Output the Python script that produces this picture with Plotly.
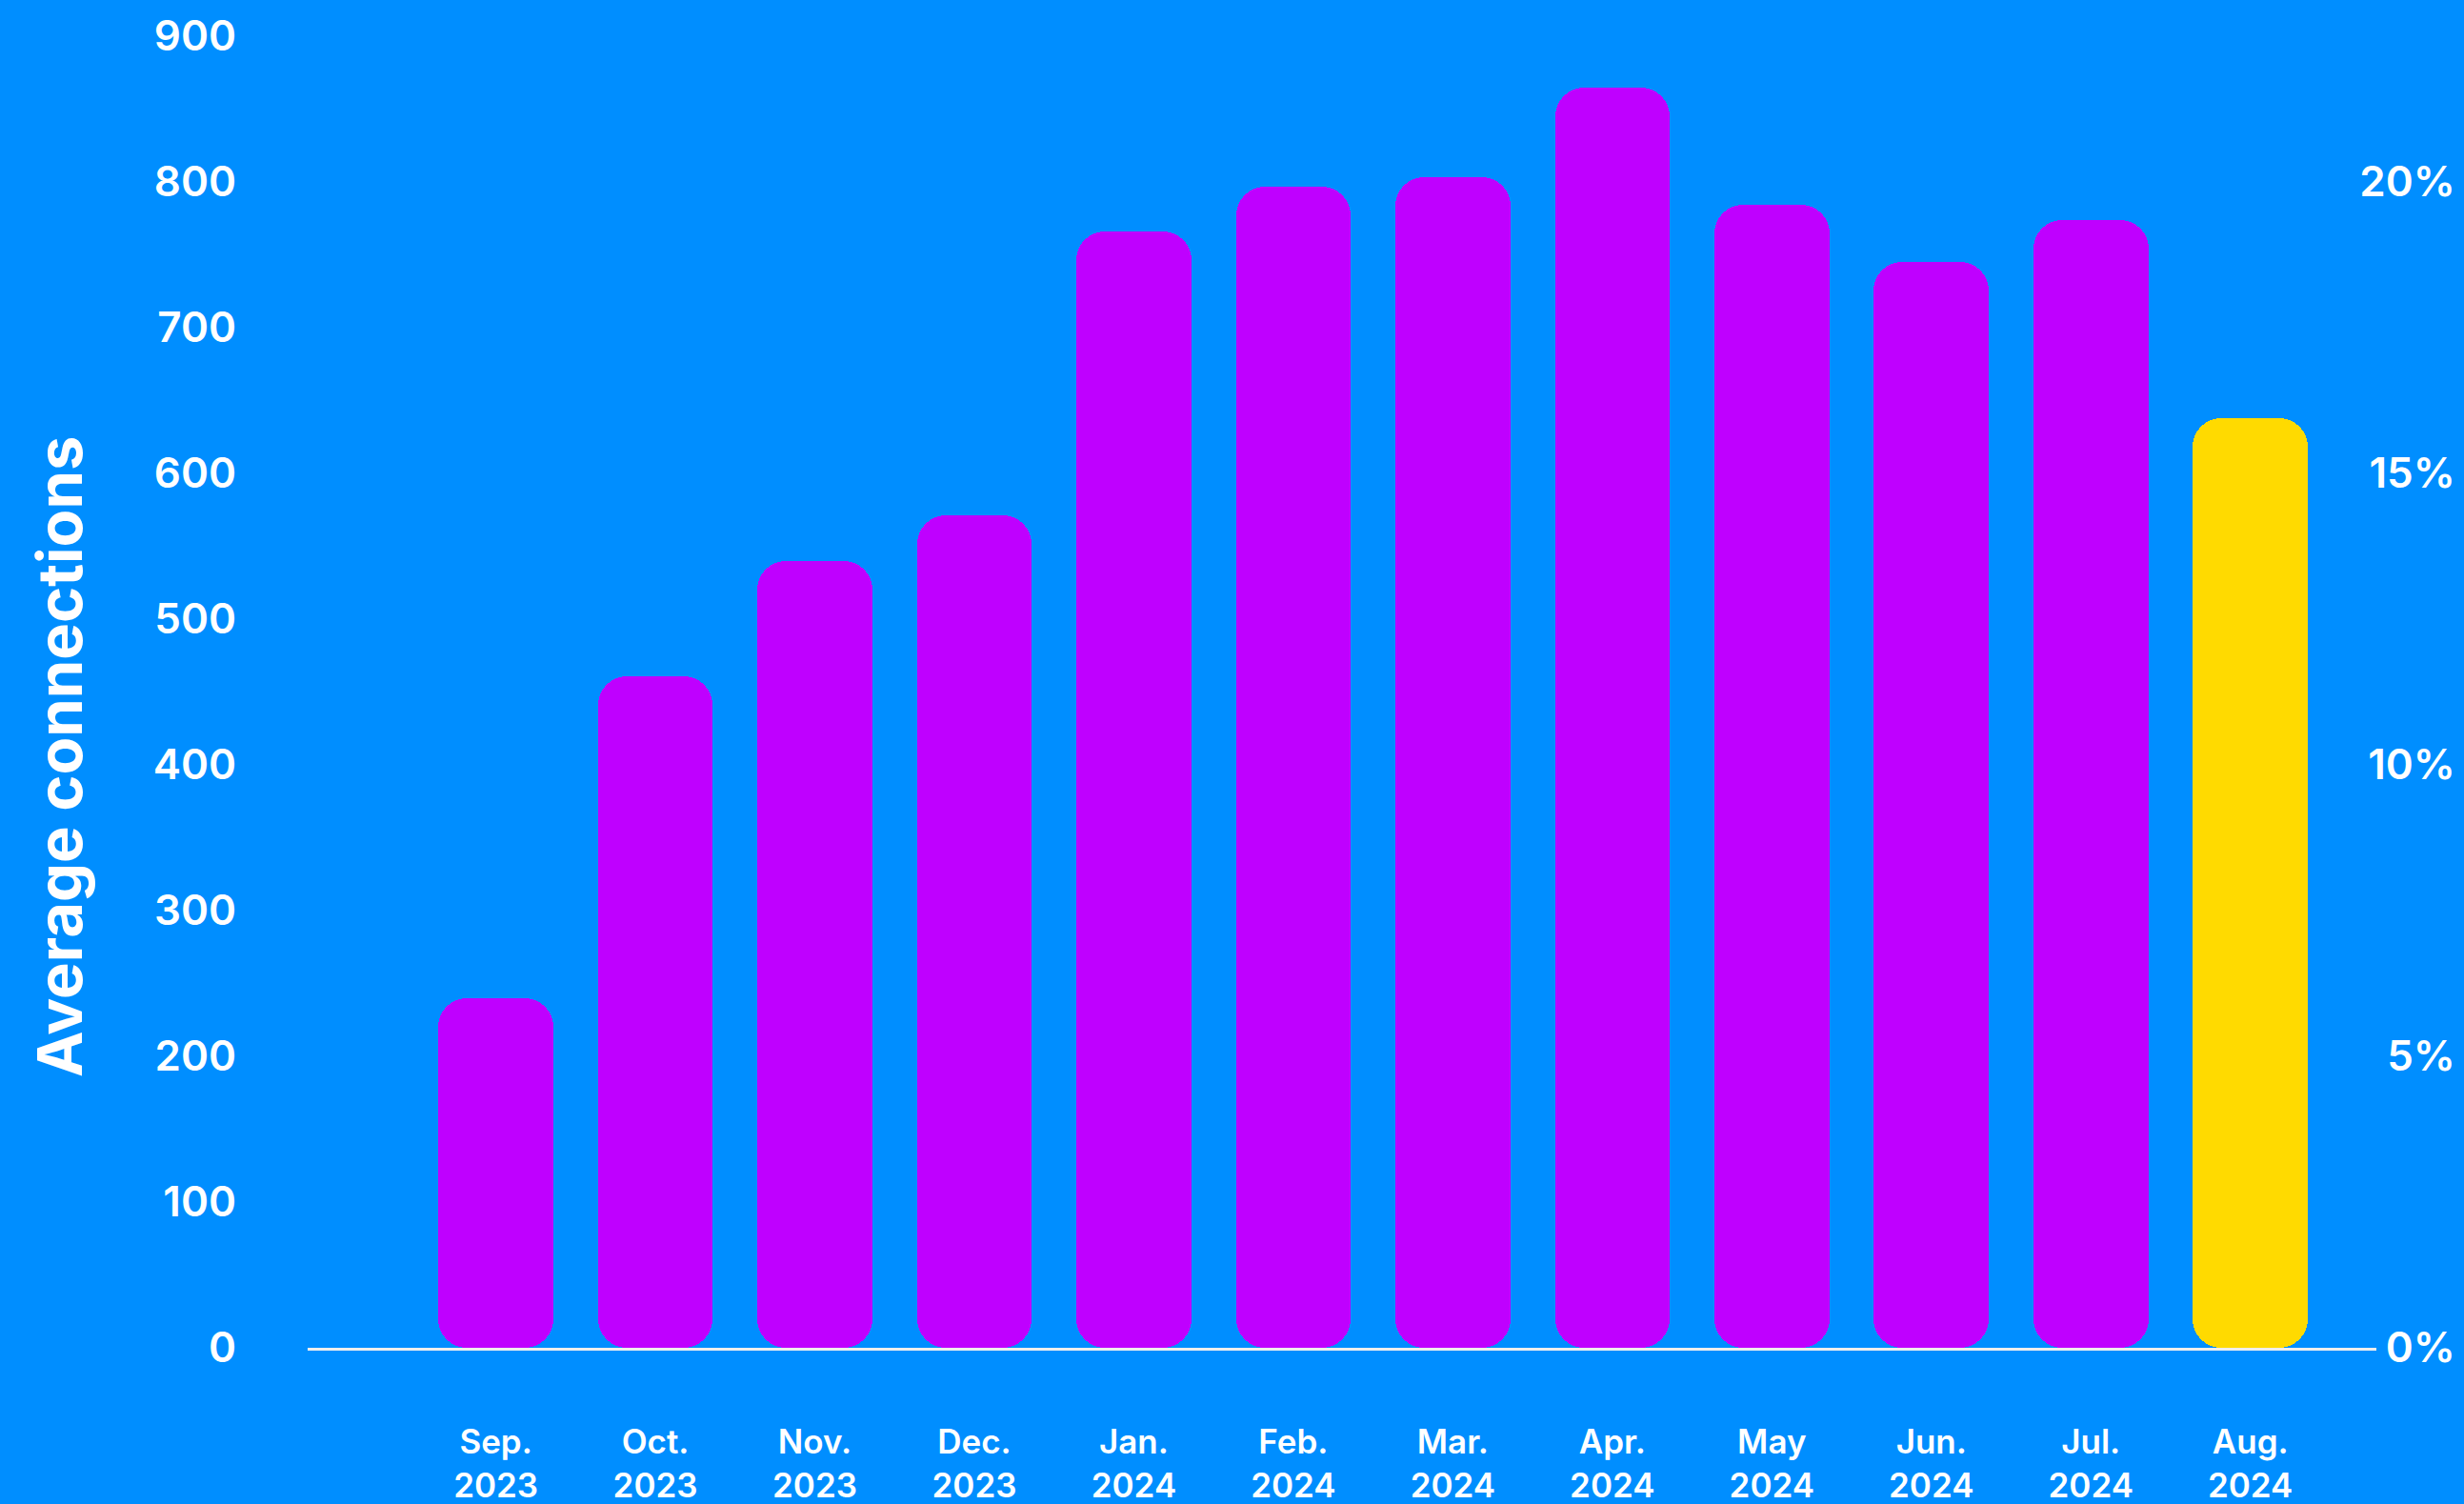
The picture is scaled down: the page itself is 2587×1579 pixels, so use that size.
import plotly.graph_objects as go

months = ["Sep.<br>2023", "Oct.<br>2023", "Nov.<br>2023", "Dec.<br>2023",
          "Jan.<br>2024", "Feb.<br>2024", "Mar.<br>2024", "Apr.<br>2024",
          "May<br>2024", "Jun.<br>2024", "Jul.<br>2024", "Aug.<br>2024"]
connections = [240, 461, 540, 571, 766, 797, 803, 865, 784, 745, 774, 638]
bar_colors = ["#BF00FF"] * 11 + ["#FFDA00"]

left_ticks = [0, 100, 200, 300, 400, 500, 600, 700, 800, 900]
right_ticks = [0, 5, 10, 15, 20]
y_title = "Average connections"

BG = "#008EFF"
FONT = "Inter, Lato, sans-serif"

# pill-shaped bars: two overlapping segments, each rounded at its outer end
low_base = [v / 2 for v in connections]
low_len = [-v / 2 for v in connections]
up_base = [v / 4 for v in connections]
up_len = [3 * v / 4 for v in connections]

fig = go.Figure()
fig.add_trace(go.Bar(x=months, y=low_len, base=low_base, width=0.72,
                     marker=dict(color=bar_colors, cornerradius=30, line=dict(width=0)),
                     hoverinfo="skip", showlegend=False))
fig.add_trace(go.Bar(x=months, y=up_len, base=up_base, width=0.72,
                     marker=dict(color=bar_colors, cornerradius=30, line=dict(width=0)),
                     customdata=connections,
                     hovertemplate="%{x}: %{customdata}<extra></extra>", showlegend=False))
# invisible trace to activate right axis
fig.add_trace(go.Scatter(x=[months[0]], y=[0], yaxis="y2", mode="markers",
                         marker=dict(opacity=0), hoverinfo="skip", showlegend=False))

W, H = 2587, 1579
ml, mr, mt, mb = 323, 7, 38, 164
x_end_px = 2495
dom = (x_end_px - ml) / (W - ml - mr)

fig.update_layout(
    width=W, height=H,
    paper_bgcolor=BG, plot_bgcolor=BG,
    margin=dict(l=ml, r=mr, t=mt, b=mb, pad=0),
    barmode="overlay",
    bargap=0,
    font=dict(family=FONT, color="white"),
    xaxis=dict(
        domain=[0, dom],
        type="category",
        range=[-1.18, 11.79],
        showgrid=False, zeroline=False,
        showline=True, linecolor="#EEEEEE", linewidth=3,
        ticks="", ticklabelstandoff=66,
        tickfont=dict(size=35, color="white", family=FONT, weight=600),
        automargin=False,
    ),
    yaxis=dict(
        range=[0, 900],
        tickvals=left_ticks,
        showgrid=False, zeroline=False, showline=False,
        ticks="", ticklabelstandoff=74,
        tickfont=dict(size=44, color="white", family=FONT, weight=600),
        automargin=False,
    ),
    yaxis2=dict(
        range=[0, 22.5],
        tickvals=right_ticks,
        ticktext=[f"{t}%" for t in right_ticks],
        overlaying="y", anchor="free", position=1, side="left",
        showgrid=False, zeroline=False, showline=False,
        ticks="", ticklabelstandoff=2,
        tickfont=dict(size=44, color="white", family=FONT, weight=600),
        automargin=False,
    ),
    annotations=[dict(
        text=y_title, textangle=-90, showarrow=False,
        xref="paper", yref="paper", x=-0.1152, y=0.451,
        xanchor="center", yanchor="middle",
        font=dict(size=65, color="white", family=FONT, weight=700),
    )],
)

fig.write_html("out.html")
